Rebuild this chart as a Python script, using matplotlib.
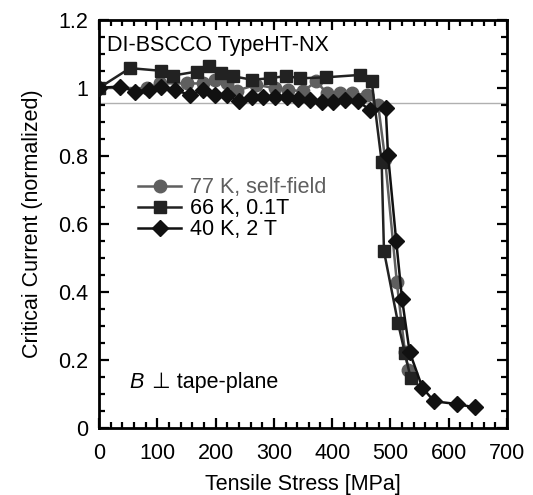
import matplotlib
matplotlib.use("Agg")
import matplotlib.pyplot as plt
from matplotlib.ticker import MultipleLocator, FormatStrFormatter

plt.rcParams["font.family"] = ["Liberation Sans", "DejaVu Sans"]

# 77 K, self-field
stress_77 = [0, 82, 105, 150, 179, 199, 219, 236, 270, 302, 325, 350, 373, 391, 413, 434, 459, 479,
             491, 511, 525, 531]
ic_77 = [1.0, 0.999, 1.013, 1.013, 1.013, 1.024, 1.013, 0.992, 1.009, 0.999, 0.994, 0.99, 1.019, 0.984,
         0.984, 0.984, 0.979, 0.95, 0.79, 0.43, 0.224, 0.17]

# 66 K, 0.1 T
stress_66 = [0, 53, 107, 126, 168, 188, 209, 230, 262, 293, 321, 345, 389, 448, 468, 485, 489, 513,
             525, 535]
ic_66 = [1.0, 1.058, 1.050, 1.036, 1.048, 1.063, 1.043, 1.034, 1.024, 1.028, 1.035, 1.028, 1.031, 1.038,
         1.019, 0.783, 0.52, 0.31, 0.22, 0.146]

# 40 K, 2 T
stress_40 = [0, 36, 62, 85, 107, 130, 156, 179, 199, 219, 240, 262, 282, 302, 322, 342, 362, 382, 402,
             422, 445, 465, 492, 496, 510, 520, 533, 555, 575, 614, 645]
ic_40 = [1.0, 1.004, 0.989, 0.994, 1.004, 0.994, 0.979, 0.994, 0.979, 0.979, 0.96, 0.973, 0.973, 0.973,
         0.973, 0.968, 0.965, 0.957, 0.957, 0.965, 0.96, 0.935, 0.94, 0.803, 0.55, 0.38, 0.224, 0.119,
         0.079, 0.071, 0.061]

ref_level = 0.955

fs = 15.5

fig = plt.figure(figsize=(5.33, 4.95), dpi=100)
ax = fig.add_axes([0.186, 0.135, 0.765, 0.825])

ax.axhline(ref_level, color="#b0b0b0", linewidth=1.0, zorder=1)

ax.plot(stress_77, ic_77, color="#5f5f5f", marker="o", markersize=9, linewidth=1.8,
        label="77 K, self-field", zorder=3)
ax.plot(stress_66, ic_66, color="#222222", marker="s", markersize=8, linewidth=1.8,
        label="66 K, 0.1T", zorder=4)
ax.plot(stress_40, ic_40, color="#111111", marker="D", markersize=8.5, linewidth=1.8,
        label="40 K, 2 T", zorder=5)

ax.set_xlim(0, 700)
ax.set_ylim(0, 1.2)
ax.xaxis.set_major_locator(MultipleLocator(100))
ax.xaxis.set_minor_locator(MultipleLocator(20))
ax.yaxis.set_major_locator(MultipleLocator(0.2))
ax.yaxis.set_minor_locator(MultipleLocator(0.05))
ax.yaxis.set_major_formatter(FormatStrFormatter("%g"))

ax.tick_params(which="both", direction="in", top=True, right=True, labelsize=fs, width=1.6)
ax.tick_params(which="major", length=7)
ax.tick_params(axis="x", which="major", pad=11)
ax.tick_params(axis="y", which="major", pad=8)
ax.tick_params(which="minor", length=4)
for sp in ax.spines.values():
    sp.set_linewidth(2)

ax.set_xlabel("Tensile Stress [MPa]", fontsize=fs, labelpad=7)
ax.set_ylabel("Criticai Current (normalized)", fontsize=fs, labelpad=11)

ax.text(0.02, 0.962, "DI-BSCCO TypeHT-NX", transform=ax.transAxes, fontsize=fs,
        va="top", ha="left")
ax.text(0.075, 0.085, "B", transform=ax.transAxes, fontsize=fs, style="italic",
        va="bottom", ha="left")
ax.annotate(" ⊥ tape-plane", xy=(0.075, 0.085), xycoords="axes fraction",
            xytext=(12, 0), textcoords="offset points", fontsize=fs,
            va="bottom", ha="left", family=["Liberation Sans", "DejaVu Sans"])

leg = ax.legend(loc="center left", bbox_to_anchor=(0.075, 0.537), frameon=False, fontsize=fs,
                handlelength=2.0, handletextpad=0.4, labelspacing=0.0, borderaxespad=0)
leg.get_texts()[0].set_color("#5f5f5f")

fig.savefig("out.png", dpi=100)
